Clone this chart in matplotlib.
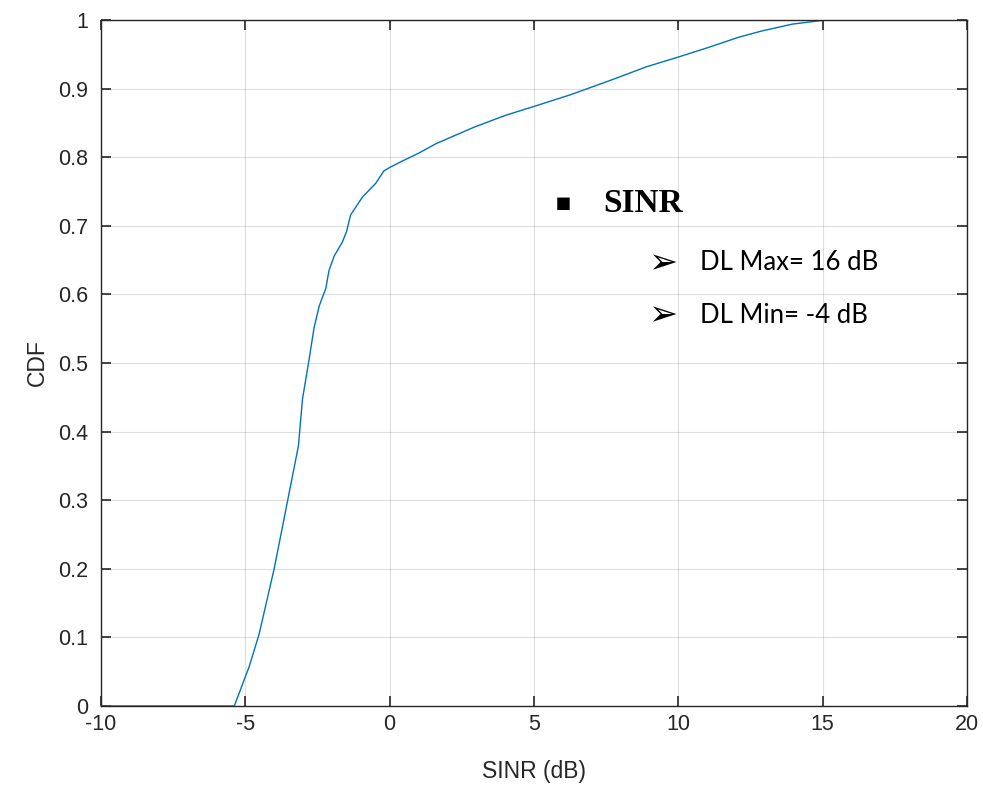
import matplotlib.pyplot as plt
import numpy as np

# CDF of SINR
sinr_db = [-10, -5.4, -5.38, -5.21, -4.86, -4.52, -4.0, -3.54, -3.16, -3.02, -2.79,
           -2.62, -2.44, -2.21, -2.10, -1.92, -1.64, -1.49, -1.35, -0.94, -0.48,
           -0.20, 0.0, 0.42, 1.01, 1.62, 2.94, 4.01, 5.0, 6.26, 7.58, 8.91, 10.0,
           11.04, 12.10, 12.89, 13.95, 15.0, 16.06, 20]
cdf = [0, 0, 0.0, 0.019, 0.058, 0.105, 0.2, 0.298, 0.379, 0.447, 0.505,
       0.551, 0.583, 0.609, 0.635, 0.656, 0.676, 0.692, 0.716, 0.742, 0.762,
       0.780, 0.785, 0.794, 0.806, 0.820, 0.844, 0.861, 0.874, 0.891, 0.911, 0.932, 0.946,
       0.960, 0.975, 0.984, 0.994, 0.9995, 1.0, 1.0]

x_ticks = [-10, -5, 0, 5, 10, 15, 20]
y_ticks = [0, 0.1, 0.2, 0.3, 0.4, 0.5, 0.6, 0.7, 0.8, 0.9, 1]
y_tick_labels = ['0', '0.1', '0.2', '0.3', '0.4', '0.5', '0.6', '0.7', '0.8', '0.9', '1']

notes = ['DL Max= 16 dB', 'DL Min= -4 dB']

plt.rcParams['font.family'] = ['Liberation Sans', 'DejaVu Sans']
plt.rcParams['axes.unicode_minus'] = False

fig = plt.figure(figsize=(9.83, 7.88), dpi=100)
ax = fig.add_axes([0.1027, 0.1041, 0.881, 0.8705])

ax.plot(sinr_db, cdf, color='#0072BD', linewidth=1.0)

ax.set_xlim(-10, 20)
ax.set_ylim(0, 1)
ax.set_xticks(x_ticks)
ax.set_yticks(y_ticks)
ax.set_yticklabels(y_tick_labels)
ax.grid(True, color='#262626', alpha=0.15, linewidth=0.8)
ax.tick_params(direction='in', top=True, right=True, labelsize=15.5,
               color='#262626', labelcolor='#262626', length=7, width=1.2)
ax.tick_params(axis='y', pad=9)
ax.tick_params(axis='x', pad=6)
for s in ax.spines.values():
    s.set_color('#262626')
    s.set_linewidth(1.0)

ax.set_xlabel('SINR (dB)', fontsize=16.5, color='#262626', labelpad=18)
ax.set_ylabel('CDF', fontsize=16.5, color='#262626', labelpad=7)

# text box overlay
ax.text(6.0, 0.733, '\u25aa', fontsize=18, ha='center', va='center', color='black',
        family=['DejaVu Sans'])
ax.text(7.4, 0.733, 'SINR', fontsize=24, fontweight='bold', ha='left', va='center',
        family=['Liberation Serif', 'DejaVu Serif'])
for i, t in enumerate(notes):
    yy = 0.646 - i * 0.077
    ax.text(9.47, yy, '\u27a2', fontsize=25, ha='center', va='center',
            family=['DejaVu Sans'])
    ax.text(10.75, yy, t, fontsize=18.5, ha='left', va='center',
            family=['Lato', 'DejaVu Sans'])

fig.savefig('out.png', dpi=100)
